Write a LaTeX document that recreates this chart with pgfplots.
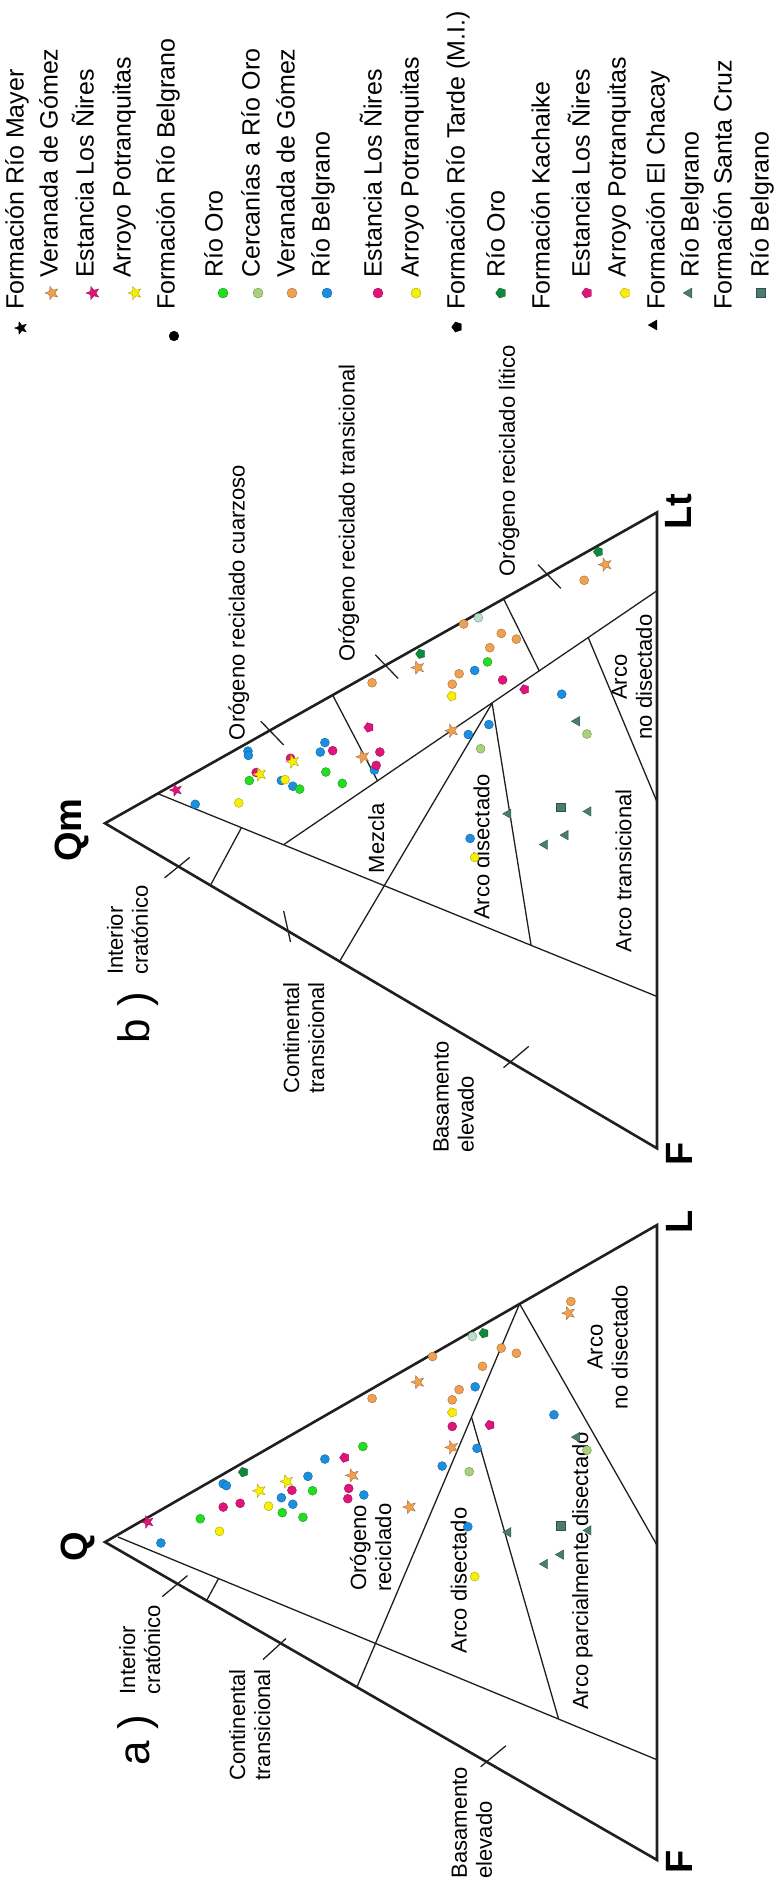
\documentclass[border=0pt]{standalone}
\usepackage{pgfplots}
\pgfplotsset{compat=1.18}
\usepackage{fontspec}
\setmainfont{Liberation Sans}

\definecolor{cGreen}{HTML}{22DD22}
\definecolor{cLGreen}{HTML}{A8D27A}
\definecolor{cOrange}{HTML}{F0A050}
\definecolor{cBlue}{HTML}{1A8FE0}
\definecolor{cMag}{HTML}{E0147A}
\definecolor{cYel}{HTML}{F8F000}
\definecolor{cDGreen}{HTML}{0E8A3C}
\definecolor{cTeal}{HTML}{4A7D72}
\definecolor{cMint}{HTML}{BCDDCB}

\pgfdeclareplotmark{fstar}{%
  \pgfpathmoveto{\pgfpointpolar{180}{\pgfplotmarksize}}%
  \pgfpathlineto{\pgfpointpolar{216}{0.42\pgfplotmarksize}}%
  \pgfpathlineto{\pgfpointpolar{252}{\pgfplotmarksize}}%
  \pgfpathlineto{\pgfpointpolar{288}{0.42\pgfplotmarksize}}%
  \pgfpathlineto{\pgfpointpolar{324}{\pgfplotmarksize}}%
  \pgfpathlineto{\pgfpointpolar{0}{0.42\pgfplotmarksize}}%
  \pgfpathlineto{\pgfpointpolar{36}{\pgfplotmarksize}}%
  \pgfpathlineto{\pgfpointpolar{72}{0.42\pgfplotmarksize}}%
  \pgfpathlineto{\pgfpointpolar{108}{\pgfplotmarksize}}%
  \pgfpathlineto{\pgfpointpolar{144}{0.42\pgfplotmarksize}}%
  \pgfpathclose\pgfusepathqfillstroke}
\pgfdeclareplotmark{fpent}{%
  \pgfpathmoveto{\pgfpointpolar{180}{\pgfplotmarksize}}%
  \pgfpathlineto{\pgfpointpolar{252}{\pgfplotmarksize}}%
  \pgfpathlineto{\pgfpointpolar{324}{\pgfplotmarksize}}%
  \pgfpathlineto{\pgfpointpolar{36}{\pgfplotmarksize}}%
  \pgfpathlineto{\pgfpointpolar{108}{\pgfplotmarksize}}%
  \pgfpathclose\pgfusepathqfillstroke}
\pgfdeclareplotmark{ltri}{%
  \pgfpathmoveto{\pgfpointpolar{180}{\pgfplotmarksize}}%
  \pgfpathlineto{\pgfpointpolar{300}{\pgfplotmarksize}}%
  \pgfpathlineto{\pgfpointpolar{60}{\pgfplotmarksize}}%
  \pgfpathclose\pgfusepathqfillstroke}

\pgfplotsset{
  pts/.style n args={3}{only marks, mark=#1, mark size=#2,
     mark options={solid, fill=#3, draw=#3!65!black, line width=0.35pt}},
  tri/.style={no markers, line width=2.6pt, color=black!88, line join=miter},
  fld/.style={no markers, line width=1.3pt, color=black!88},
  tern/.style={scale only axis, width=777pt, xmin=-129.2, xmax=1566.9,
     y dir=reverse, hide axis, clip=false, anchor=north west},
}
\tikzset{
  lab/.style={rotate=90, inner sep=0pt, font=\fontsize{22}{25}\selectfont},
  leg/.style={rotate=90, anchor=mid west, inner sep=0pt, font=\fontsize{25}{30}\selectfont},
  vtx/.style={rotate=90, anchor=center, inner sep=0pt, font=\fontsize{38}{40}\selectfont\bfseries},
}

\begin{document}
\begin{tikzpicture}
%================ main frame: legend and vertex labels (pixel frame)
\begin{axis}[scale only axis, width=777pt, height=1881pt, at={(0pt,0pt)}, anchor=north west,
  xmin=0, xmax=777, ymin=0, ymax=1881, y dir=reverse, hide axis, clip=false]
\path (axis cs:0,0) rectangle (axis cs:777,1881);
% header markers
\addplot[pts={fstar}{6.5pt}{black}] coordinates {(21,328)};
\addplot[pts={*}{4.9pt}{black}] coordinates {(174,336)};
\addplot[pts={fpent}{5.3pt}{black}] coordinates {(457,327)};
\addplot[pts={ltri}{5.8pt}{black}] coordinates {(654,325)};
% item markers
\addplot[pts={fstar}{7pt}{cOrange}] coordinates {(52,293)};
\addplot[pts={fstar}{7pt}{cMag}] coordinates {(93,293)};
\addplot[pts={fstar}{7pt}{cYel}] coordinates {(135,293)};
\addplot[pts={*}{5pt}{cGreen}] coordinates {(223,293)};
\addplot[pts={*}{5pt}{cLGreen}] coordinates {(258,293)};
\addplot[pts={*}{5pt}{cOrange}] coordinates {(292,293)};
\addplot[pts={*}{5pt}{cBlue}] coordinates {(327,293)};
\addplot[pts={*}{5pt}{cMag}] coordinates {(378,293)};
\addplot[pts={*}{5pt}{cYel}] coordinates {(416,293)};
\addplot[pts={fpent}{5.3pt}{cDGreen}] coordinates {(501,293)};
\addplot[pts={fpent}{5.3pt}{cMag}] coordinates {(587,293)};
\addplot[pts={fpent}{5.3pt}{cYel}] coordinates {(625,293)};
\addplot[pts={ltri}{5.8pt}{cTeal}] coordinates {(689,293)};
\addplot[pts={square*}{4.5pt}{cTeal}] coordinates {(761,293)};
% legend texts
\node[leg] at (axis cs:21,310) {Formación Río Mayer};
\node[leg] at (axis cs:55,278) {Veranada de Gómez};
\node[leg] at (axis cs:91,278) {Estancia Los Ñires};
\node[leg] at (axis cs:128,278) {Arroyo Potranquitas};
\node[leg] at (axis cs:172,310) {Formación Río Belgrano};
\node[leg] at (axis cs:220,278) {Río Oro};
\node[leg] at (axis cs:257,278) {Cercanías a Río Oro};
\node[leg] at (axis cs:292,278) {Veranada de Gómez};
\node[leg] at (axis cs:327,278) {Río Belgrano};
\node[leg] at (axis cs:379,278) {Estancia Los Ñires};
\node[leg] at (axis cs:416,278) {Arroyo Potranquitas};
\node[leg] at (axis cs:462,310) {Formación Río Tarde (M.I.)};
\node[leg] at (axis cs:502,278) {Río Oro};
\node[leg] at (axis cs:547,310) {Formación Kachaike};
\node[leg] at (axis cs:587,278) {Estancia Los Ñires};
\node[leg] at (axis cs:623,278) {Arroyo Potranquitas};
\node[leg] at (axis cs:662,310) {Formación El Chacay};
\node[leg] at (axis cs:696,278) {Río Belgrano};
\node[leg] at (axis cs:729,310) {Formación Santa Cruz};
\node[leg] at (axis cs:766,278) {Río Belgrano};
% vertex labels
\node[vtx] at (axis cs:78,1547) {Q};
\node[vtx] at (axis cs:679,1222) {L};
\node[vtx] at (axis cs:679,1862) {F};
\node[vtx] at (axis cs:72,830) {Qm};
\node[vtx] at (axis cs:679,512) {Lt};
\node[vtx] at (axis cs:679,1154) {F};
\end{axis}

%================ a) QFL
\begin{axis}[tern, at={(0pt,-1150pt)}, height=731pt, ymin=2.1, ymax=1570.1]
\addplot[tri] coordinates {(100,843) (1305,163) (1305,1525)} -- cycle;
\addplot[fld] coordinates {(128,832) (1305,1310)};
\addplot[fld] coordinates {(322,968) (348,921)};
\addplot[fld] coordinates {(650,1154) (1005,332)};
\addplot[fld] coordinates {(1005,332) (1305,850)};
\addplot[fld] coordinates {(900,575) (1090,1222)};
\addplot[fld] coordinates {(225,960) (280,915)};
\addplot[fld] coordinates {(445,1095) (495,1050)};
\addplot[fld] coordinates {(920,1325) (975,1280)};
% data
\addplot[pts={*}{4.5pt}{cBlue}] coordinates {(222,845) (358,718) (365,722) (485,748) (510,762) (543,702) (580,665) (665,742) (836,680) (912,642) (908,510) (892,810) (1080,570)};
\addplot[pts={*}{4.5pt}{cMag}] coordinates {(358,768) (395,760) (508,732) (632,728) (630,750) (858,595)};
\addplot[pts={*}{4.5pt}{cGreen}] coordinates {(308,793) (487,780) (532,790) (553,733) (663,638)};
\addplot[pts={*}{4.5pt}{cYel}] coordinates {(350,820) (457,766) (907,917)};
\addplot[pts={*}{4.5pt}{cOrange}] coordinates {(683,535) (815,445) (858,538) (873,516) (924,466) (965,427) (998,438) (1117,327)};
\addplot[pts={*}{4.5pt}{cLGreen}] coordinates {(895,692) (1152,646)};
\addplot[pts={*}{4.5pt}{cMint}] coordinates {(902,402)};
\addplot[pts={fpent}{5pt}{cDGreen}] coordinates {(402,693) (927,395)};
\addplot[pts={fpent}{5pt}{cMag}] coordinates {(623,662) (940,592)};
\addplot[pts={fpent}{5pt}{cYel}] coordinates {(858,565)};
\addplot[pts={ltri}{5.5pt}{cTeal}] coordinates {(980,822) (1060,890) (1095,870) (1130,618) (1155,818)};
\addplot[pts={square*}{4.3pt}{cTeal}] coordinates {(1095,808)};
\addplot[pts={fstar}{7pt}{cOrange}] coordinates {(783,500) (640,700) (765,768) (857,640) (1112,352)};
\addplot[pts={fstar}{6.5pt}{cMag}] coordinates {(193,800)};
\addplot[pts={fstar}{7pt}{cYel}] coordinates {(437,733) (497,713)};
% labels
\node[rotate=90, anchor=center, inner sep=0pt, font=\fontsize{44}{46}\selectfont] at (axis cs:172,1268) {a )};
\node[lab, anchor=west, align=left] at (axis cs:176,1170) {Interior\\cratónico};
\node[lab, anchor=west, align=left] at (axis cs:416,1355) {Continental\\transicional};
\node[lab, anchor=west, align=left] at (axis cs:901,1565) {Basamento\\elevado};
\node[lab, anchor=center, align=center] at (axis cs:680,855) {Orógeno\\reciclado};
\node[lab, anchor=center] at (axis cs:872,925) {Arco disectado};
\node[lab, anchor=center] at (axis cs:1142,905) {Arco parcialmente disectado};
\node[lab, anchor=center, align=center] at (axis cs:1197,425) {Arco\\no disectado};
\end{axis}

%================ b) QmFLt
\begin{axis}[tern, at={(0pt,-420pt)}, height=760pt, ymin=-9.7, ymax=1591.7]
\addplot[tri] coordinates {(100,840) (1305,185) (1305,1525)} -- cycle;
\addplot[fld] coordinates {(215,777.5) (1305,1205)};
\addplot[fld] coordinates {(330,971) (398,849)};
\addplot[fld] coordinates {(490,885) (1305,350)};
\addplot[fld] coordinates {(612,1131) (945,587)};
\addplot[fld] coordinates {(945,587) (1030,1097)};
\addplot[fld] coordinates {(1155,449) (1305,795)};
\addplot[fld] coordinates {(597,570) (695,751)};
\addplot[fld] coordinates {(970,367) (1048,519)};
\addplot[fld] coordinates {(230,955) (285,912)};
\addplot[fld] coordinates {(490,1025) (505,1090)};
\addplot[fld] coordinates {(970,1355) (1025,1310)};
\addplot[fld] coordinates {(440,625) (490,675)};
\addplot[fld] coordinates {(690,485) (740,535)};
\addplot[fld] coordinates {(1045,295) (1095,345)};
% data
\addplot[pts={*}{4.5pt}{cBlue}] coordinates {(297,800) (412,688) (413,697) (485,750) (510,762) (570,690) (580,670) (688,728) (893,653) (938,632) (907,518) (1097,568) (897,872)};
\addplot[pts={*}{4.5pt}{cMag}] coordinates {(505,703) (430,733) (597,687) (700,690) (692,718) (968,538)};
\addplot[pts={*}{4.5pt}{cGreen}] coordinates {(415,750) (525,768) (582,732) (618,756) (935,500)};
\addplot[pts={*}{4.5pt}{cYel}] coordinates {(392,797) (493,748) (907,912)};
\addplot[pts={*}{4.5pt}{cOrange}] coordinates {(683,544) (858,547) (873,525) (883,420) (940,470) (965,440) (998,452) (1146,328)};
\addplot[pts={*}{4.5pt}{cLGreen}] coordinates {(920,683) (1152,652)};
\addplot[pts={*}{4.5pt}{cMint}] coordinates {(915,407)};
\addplot[pts={fpent}{5pt}{cDGreen}] coordinates {(789,483) (1177,268)};
\addplot[pts={fpent}{5pt}{cMag}] coordinates {(676,638) (1016,558)};
\addplot[pts={fpent}{5pt}{cYel}] coordinates {(857,572)};
\addplot[pts={ltri}{5.5pt}{cTeal}] coordinates {(980,820) (1060,885) (1105,865) (1130,625) (1155,815)};
\addplot[pts={square*}{4.3pt}{cTeal}] coordinates {(1095,806)};
\addplot[pts={fstar}{7pt}{cOrange}] coordinates {(663,700) (783,512) (857,645) (1192,295)};
\addplot[pts={fstar}{6.5pt}{cMag}] coordinates {(255,770)};
\addplot[pts={fstar}{7pt}{cYel}] coordinates {(438,737) (510,710)};
% labels
\node[rotate=90, anchor=center, inner sep=0pt, font=\fontsize{44}{46}\selectfont] at (axis cs:172,1250) {b )};
\node[lab, anchor=west, align=left] at (axis cs:149,1160) {Interior\\cratónico};
\node[lab, anchor=west, align=left] at (axis cs:534,1410) {Continental\\transicional};
\node[lab, anchor=west, align=left] at (axis cs:861,1535) {Basamento\\elevado};
\node[lab, anchor=center] at (axis cs:692,872) {Mezcla};
\node[lab, anchor=center] at (axis cs:922,890) {Arco disectado};
\node[lab, anchor=center] at (axis cs:1232,940) {Arco transicional};
\node[lab, anchor=center, align=center] at (axis cs:1250,532) {Arco\\no disectado};
\node[lab, anchor=mid west] at (axis cs:399,665) {Orógeno reciclado cuarzoso};
\node[lab, anchor=mid west] at (axis cs:639,500) {Orógeno reciclado transicional};
\node[lab, anchor=mid west] at (axis cs:989,320) {Orógeno reciclado lítico};
\end{axis}
\end{tikzpicture}
\end{document}
